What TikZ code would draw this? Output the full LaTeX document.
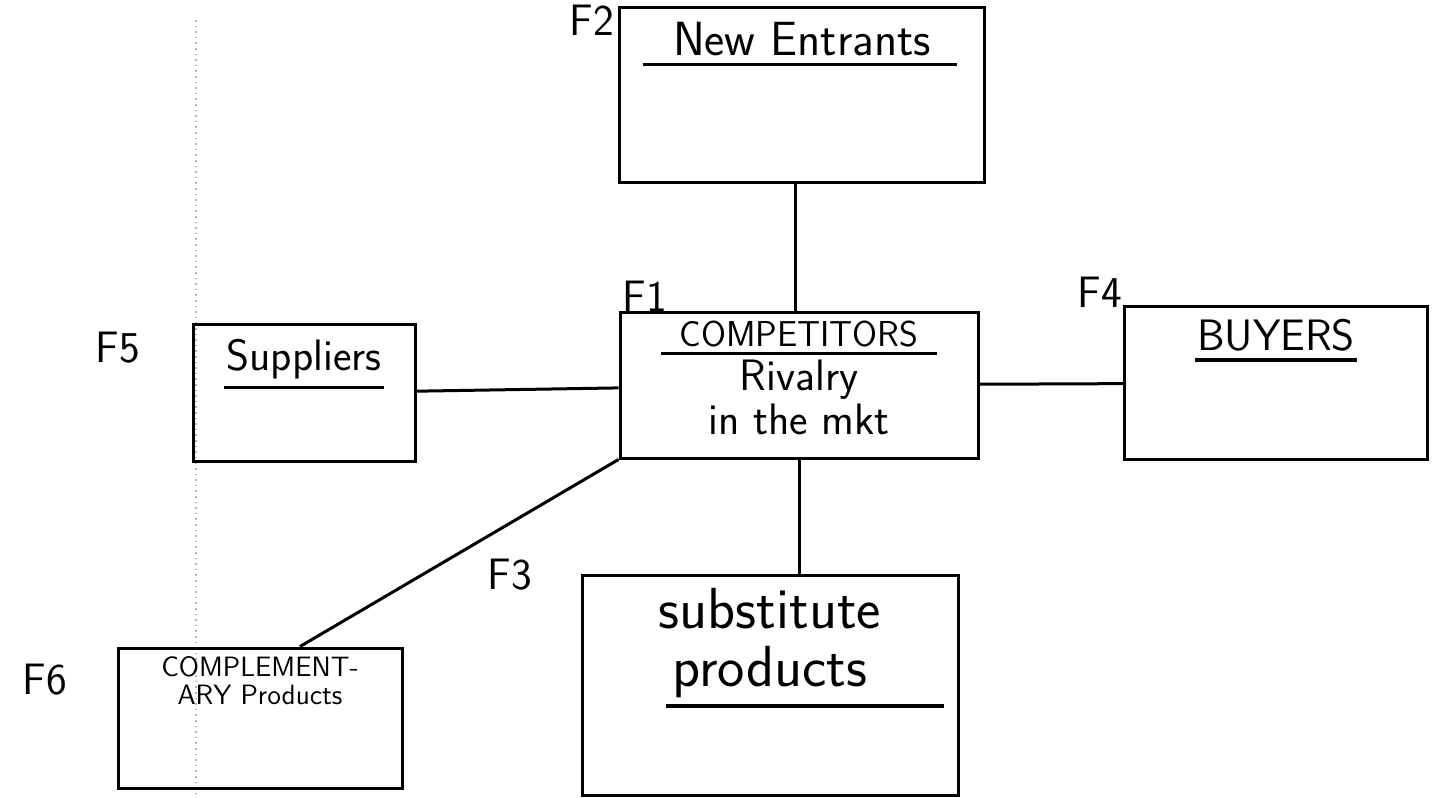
\documentclass[tikz,border=0pt]{standalone}
\usetikzlibrary{positioning,calc}

\begin{document}
\begin{tikzpicture}[
  x=0.5pt,y=-0.5pt,
  force/.style={draw,line width=1.5pt,inner sep=0pt},
  title/.style={font=\sffamily\fontsize{#1}{#1}\selectfont,inner sep=1pt,align=center},
  tag/.style={font=\sffamily\fontsize{22}{22}\selectfont,inner sep=0pt},
  link/.style={line width=1.5pt},
  underbar/.style={line width=1.8pt}
]
  \useasboundingbox (0,0) rectangle (1438,797);
  \draw[gray!60,dotted,line width=0.8pt] (196,20) -- (196,797);

  \node[force,minimum width=182.5pt,minimum height=87.5pt] (entrants) at (802,95) {};
  \node[force,minimum width=179pt,minimum height=73pt] (rivalry) at (799,385) {};
  \node[force,minimum width=151.5pt,minimum height=76.5pt] (buyers) at (1276,383) {};
  \node[force,minimum width=111pt,minimum height=68.5pt] (suppliers) at (304,393) {};
  \node[force,minimum width=188pt,minimum height=110pt] (substitute) at (770,685) {};
  \node[force,minimum width=142pt,minimum height=70pt] (complementary) at (260,718) {};

  \node[tag] (f2) at (592,20) {F2};
  \node[tag] (f1) at (645,296) {F1};
  \node[tag] (f4) at (1100,292) {F4};
  \node[tag] (f5) at (118,348) {F5};
  \node[tag] (f3) at (510,575) {F3};
  \node[tag] (f6) at (45,680) {F6};

  \node[title=24,below=7pt of entrants.north] (entrantsname) {New Entrants};
  \node[title=18,below=4pt of rivalry.north] (rivalryname) {COMPETITORS};
  \node[title=22,below=4pt of rivalryname] (rivalrytext) {Rivalry\\in the mkt};
  \node[title=22,below=6pt of buyers.north] (buyersname) {BUYERS};
  \node[title=22,below=7pt of suppliers.north] (suppliersname) {Suppliers};
  \node[title=29,below=6pt of substitute.north] (substitutename) {substitute\\products};
  \node[title=14,below=4pt of complementary.north] (complementaryname) {COMPLEMENT-\\ARY Products};

  \draw[underbar] ([xshift=-14pt,yshift=-3pt]entrantsname.south west) -- ([xshift=12pt,yshift=-3pt]entrantsname.south east);
  \draw[underbar] ([xshift=-8pt,yshift=-2pt]rivalryname.south west) -- ([xshift=8pt,yshift=-2pt]rivalryname.south east);
  \draw[underbar] ([yshift=-3pt]buyersname.south west) -- ([yshift=-3pt]buyersname.south east);
  \draw[underbar] ([yshift=-3pt]suppliersname.south west) -- ([yshift=-3pt]suppliersname.south east);
  \draw[underbar] ([xshift=-52pt,yshift=-3pt]substitutename.south) -- ([xshift=87pt,yshift=-3pt]substitutename.south);

  \draw[link] ([xshift=-3.5pt]entrants.south) -- ([xshift=-2pt]rivalry.north);
  \draw[link] (suppliers) -- (rivalry);
  \draw[link] (rivalry) -- (buyers);
  \draw[link] (rivalry.south) -- (rivalry.south |- substitute.north);
  \draw[link] (rivalry.south west) -- ([xshift=20pt]complementary.north);
\end{tikzpicture}
\end{document}
